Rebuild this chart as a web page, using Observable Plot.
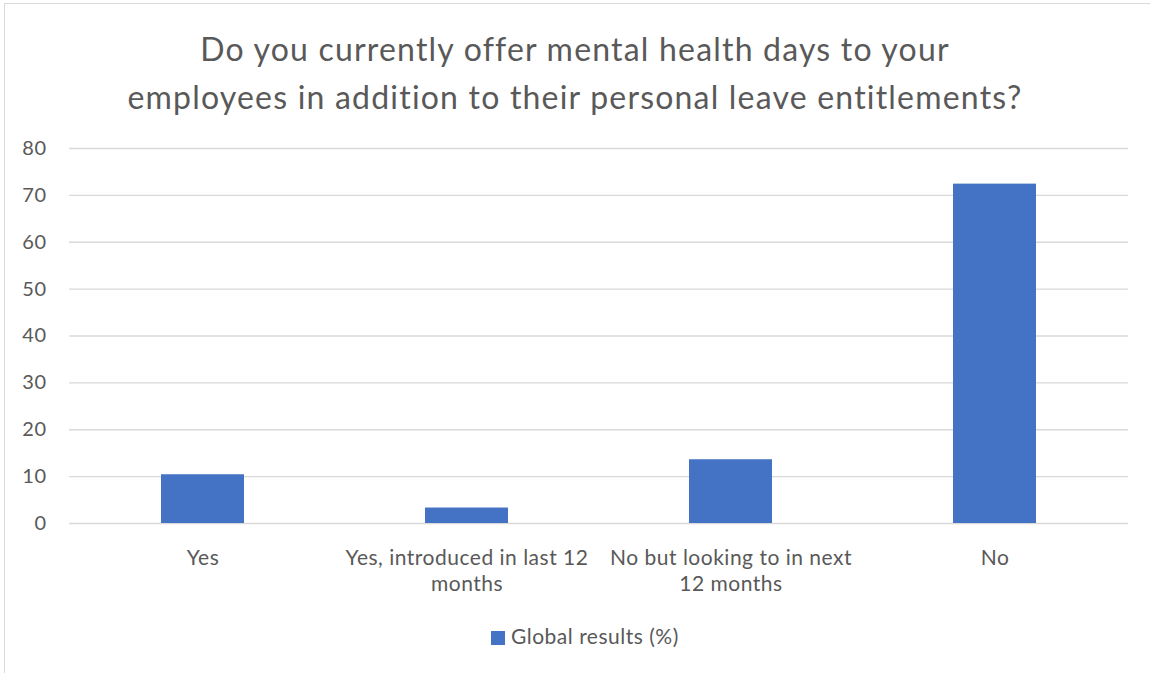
<!DOCTYPE html>
<html>
<head>
<meta charset="utf-8">
<script src="https://cdn.jsdelivr.net/npm/d3@7"></script>
<script src="https://cdn.jsdelivr.net/npm/@observablehq/plot@0.6"></script>
<style>
  html, body { margin: 0; padding: 0; background: #fff; }
  #frame { position: relative; width: 1150px; height: 673px; overflow: hidden; background: #fff; }
  #box { position: absolute; left: 4px; top: 3px; width: 1160px; height: 700px; border: 1.5px solid #d9d9d9; box-sizing: border-box; }
  #title { position: absolute; left: 0; top: 25px; width: 1150px; text-align: center; font-family: Lato, sans-serif; font-size: 32px; letter-spacing: 1.2px; line-height: 48px; color: #595959; }
  #chart { position: absolute; left: 0; top: 128px; }
  #legend { position: absolute; left: 491px; top: 623px; font-family: Lato, sans-serif; font-size: 21px; letter-spacing: 0.5px; line-height: 25px; color: #595959; white-space: nowrap; }
  #legend .sw { display: inline-block; width: 14px; height: 14px; background: #4472c4; margin-right: 6px; vertical-align: -1px; }
</style>
</head>
<body>
<div id="frame">
  <div id="box"></div>
  <div id="title">Do you currently offer mental health days to your<br>employees in addition to their personal leave entitlements?</div>
  <div id="chart"></div>
  <div id="legend"><span class="sw"></span>Global results (%)</div>
</div>
<script>
const categories = ["Yes", "Yes, introduced in last 12 months", "No but looking to in next 12 months", "No"];
const tickLabels = ["Yes", "Yes, introduced in last 12\nmonths", "No but looking to in next\n12 months", "No"];
const values = [10.4, 3.3, 13.6, 72.4];
const yTicks = [0, 10, 20, 30, 40, 50, 60, 70, 80];

const data = categories.map((c, i) => ({category: c, value: values[i]}));
const labelOf = new Map(categories.map((c, i) => [c, tickLabels[i]]));

const chart = Plot.plot({
  width: 1150,
  height: 470,
  marginTop: 20,
  marginBottom: 75,
  marginLeft: 69,
  marginRight: 22,
  style: { fontFamily: "Lato, sans-serif", color: "#595959", background: "transparent", letterSpacing: "0.5px" },
  x: { domain: categories, paddingInner: 0.6875, paddingOuter: 0.34375, label: null },
  y: { domain: [0, 80], label: null },
  marks: [
    Plot.gridY(yTicks, { stroke: "#d9d9d9", strokeOpacity: 1, strokeWidth: 1.3 }),
    Plot.barY(data, { x: "category", y: "value", fill: "#4472c4" }),
    Plot.axisY(yTicks, { tickSize: 0, tickPadding: 23, fontSize: 20, fill: "#595959", label: null }),
    Plot.axisX({ tickSize: 0, tickPadding: 23, fontSize: 21, fill: "#595959", lineHeight: 1.238, tickFormat: d => labelOf.get(d), label: null })
  ]
});
document.getElementById("chart").appendChild(chart);
</script>
</body>
</html>
